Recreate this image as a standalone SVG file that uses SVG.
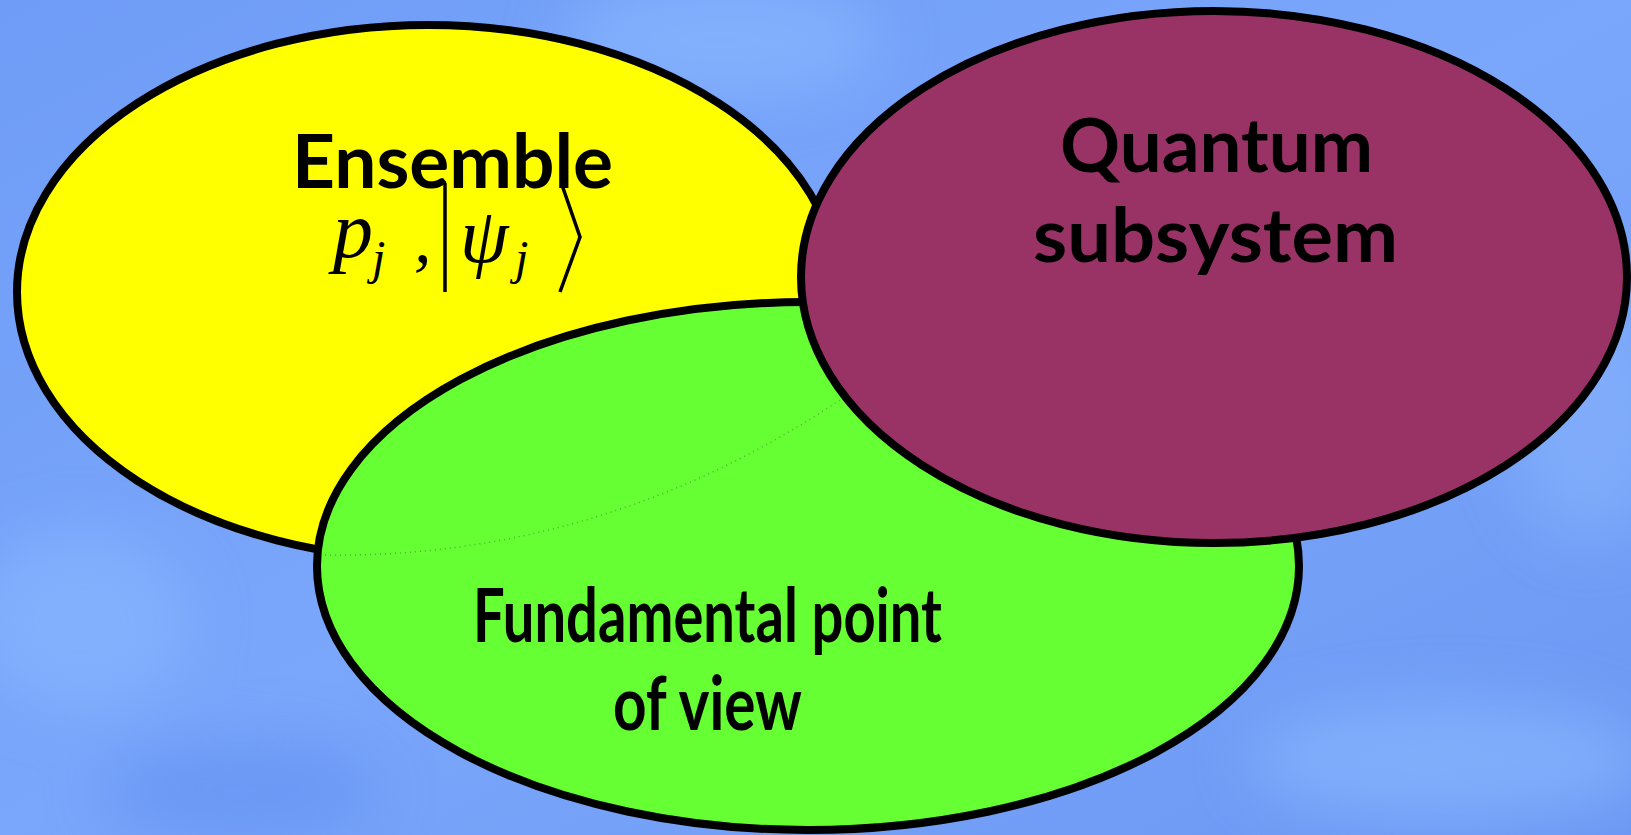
<svg xmlns="http://www.w3.org/2000/svg" width="1631" height="835" viewBox="0 0 1631 835">
  <defs>
    <linearGradient id="bg" x1="0" y1="0" x2="1" y2="1">
      <stop offset="0" stop-color="#6f9cf6"/>
      <stop offset="0.5" stop-color="#7aa6fb"/>
      <stop offset="1" stop-color="#6c98f3"/>
    </linearGradient>
    <filter id="blur" x="-50%" y="-50%" width="200%" height="200%">
      <feGaussianBlur stdDeviation="30"/>
    </filter>
    <style>
      .shape { stroke: #000; stroke-width: 8; }
      .lbl { font-family: Lato, "Open Sans", "Liberation Sans", sans-serif; font-weight: 700; font-size: 74px; fill: #000; }
      .math { font-family: "Liberation Serif", "DejaVu Serif", serif; font-style: italic; fill: #000; }
      .delim { stroke: #000; stroke-width: 3.5; fill: none; stroke-linejoin: miter; }
      .ghost { fill: none; stroke: #222; stroke-width: 1.5; stroke-dasharray: 1 4; opacity: 0.35; }
    </style>
  </defs>

  <rect width="1631" height="835" fill="url(#bg)"/>
  <g filter="url(#blur)" opacity="0.6">
    <ellipse cx="720" cy="40" rx="160" ry="60" fill="#8cbaff"/>
    <ellipse cx="80" cy="620" rx="110" ry="90" fill="#8ab8ff"/>
    <ellipse cx="1450" cy="760" rx="200" ry="60" fill="#8cbaff"/>
    <ellipse cx="1590" cy="420" rx="80" ry="120" fill="#88b4fd"/>
    <ellipse cx="240" cy="790" rx="140" ry="50" fill="#6290f0"/>
  </g>

  <g id="node-ensemble">
    <ellipse class="shape" cx="428" cy="292" rx="411" ry="267" fill="#ffff00"/>
  </g>

  <g id="node-fundamental">
    <ellipse class="shape" cx="808" cy="566" rx="491" ry="264" fill="#66ff33"/>
    <path class="ghost" d="M 320 555 Q 600 560 840 400"/>
  </g>

  <g id="node-quantum">
    <ellipse class="shape" cx="1214" cy="277" rx="413" ry="266" fill="#993366"/>
  </g>

  <g id="labels">
    <text class="lbl" x="292" y="188" textLength="321" lengthAdjust="spacingAndGlyphs">Ensemble</text>
    <text class="math" x="333" y="257" font-size="80">p</text>
    <text class="math" x="372" y="274" font-size="48">j</text>
    <text class="math" x="414" y="262" font-size="70">,</text>
    <line class="delim" x1="445" y1="183" x2="445" y2="292"/>
    <text class="math" x="460" y="262" font-size="78">ψ</text>
    <text class="math" x="515" y="274" font-size="48">j</text>
    <polyline class="delim" points="562,185 580,237 560,292"/>

    <text class="lbl" x="1060" y="172" textLength="313" lengthAdjust="spacingAndGlyphs">Quantum</text>
    <text class="lbl" x="1033" y="262" textLength="365" lengthAdjust="spacingAndGlyphs">subsystem</text>

    <text class="lbl" x="473" y="642" textLength="469" lengthAdjust="spacingAndGlyphs">Fundamental point</text>
    <text class="lbl" x="613" y="730" textLength="189" lengthAdjust="spacingAndGlyphs">of view</text>
  </g>

  <g id="connectors"></g>
</svg>
